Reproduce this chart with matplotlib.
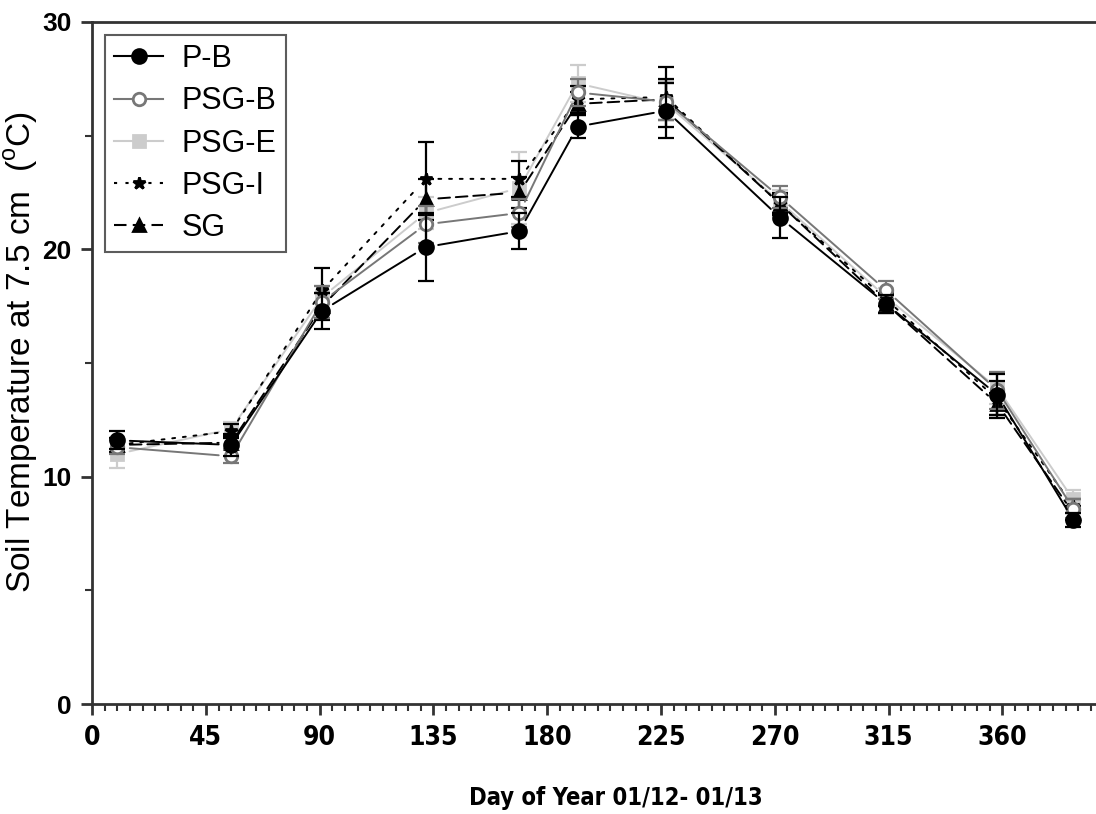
import matplotlib
matplotlib.use("Agg")
import matplotlib.pyplot as plt
from matplotlib.lines import Line2D
from matplotlib.ticker import MultipleLocator

plt.rcParams["font.family"] = ["Liberation Sans", "DejaVu Sans"]

days = [10, 55, 91, 132, 169, 192, 227, 272, 314, 358, 388]

pb = [11.6, 11.4, 17.3, 20.1, 20.8, 25.4, 26.1, 21.4, 17.6, 13.6, 8.1]
psg_b = [11.3, 10.9, 17.7, 21.1, 21.6, 26.9, 26.5, 22.3, 18.2, 13.8, 8.6]
psg_e = [11.0, 12.1, 17.9, 21.6, 22.7, 27.3, 26.4, 22.1, 17.9, 13.9, 9.0]
psg_i = [11.4, 12.0, 18.2, 23.1, 23.1, 26.6, 26.7, 22.0, 17.8, 13.4, 8.7]
sg = [11.4, 11.5, 17.5, 22.2, 22.5, 26.4, 26.6, 22.0, 17.6, 13.2, 8.4]

pb_err = [0.4, 0.5, 0.8, 1.5, 0.8, 0.5, 1.2, 0.9, 0.4, 0.9, 0.3]
psg_b_err = [0.3, 0.3, 0.7, 0.8, 0.6, 0.6, 0.8, 0.5, 0.4, 0.8, 0.4]
psg_e_err = [0.6, 0.3, 0.5, 0.7, 1.6, 0.8, 1.0, 0.5, 0.4, 0.7, 0.4]
psg_i_err = [0.3, 0.3, 1.0, 1.6, 0.8, 0.6, 1.3, 0.5, 0.3, 0.8, 0.3]
sg_err = [0.3, 0.3, 0.6, 0.9, 0.7, 0.5, 0.9, 0.4, 0.4, 0.5, 0.3]

x_ticks = [0, 45, 90, 135, 180, 225, 270, 315, 360]
y_ticks = [0, 10, 20, 30]

series = [
    # label, values, errors, colour, linestyle, marker, marker face, size, zorder
    ("SG", sg, sg_err, "black", (0, (6, 3)), "^", "black", 8, 3),
    ("PSG-I", psg_i, psg_i_err, "black", (0, (1.5, 4)), "*", "black", 9, 4),
    ("PSG-E", psg_e, psg_e_err, "#cccccc", "-", "s", "#cccccc", 9, 2),
    ("PSG-B", psg_b, psg_b_err, "#777777", "-", "o", "white", 9, 5),
    ("P-B", pb, pb_err, "black", "-", "o", "black", 10, 6),
]

fig = plt.figure(figsize=(10.96, 8.14), dpi=100)
ax = fig.add_axes([0.084, 0.135, 0.916, 0.838])

for label, vals, errs, color, ls, marker, face, ms, z in series:
    ax.errorbar(days, vals, yerr=errs, fmt="none", ecolor=color, elinewidth=1.6,
                capsize=6, capthick=1.6, zorder=z)
    ax.plot(days, vals, linestyle="none", marker=marker, markersize=ms,
            markerfacecolor=face, markeredgecolor=color, markeredgewidth=2, zorder=z + 0.5)
    # Prism-style connecting lines that stop short of each marker
    for i in range(len(days) - 1):
        ax.annotate("", xy=(days[i + 1], vals[i + 1]), xytext=(days[i], vals[i]),
                    arrowprops=dict(arrowstyle="-", color=color, lw=1.4, linestyle=ls,
                                    shrinkA=9, shrinkB=9), zorder=z)

ax.set_xlim(0, 397)
ax.set_ylim(0, 30)
ax.set_xticks(x_ticks)
ax.xaxis.set_minor_locator(MultipleLocator(5))
ax.set_yticks(y_ticks)
ax.yaxis.set_minor_locator(MultipleLocator(5))

for side in ("left", "bottom", "top"):
    ax.spines[side].set_linewidth(2)
    ax.spines[side].set_color("#333333")
ax.spines["right"].set_visible(False)

ax.tick_params(which="major", length=8, width=2, color="#333333", direction="out", pad=7)
ax.tick_params(which="minor", length=5, width=1.5, color="#333333", direction="out")
for lab in ax.get_xticklabels():
    lab.set_fontfamily("DejaVu Sans")
    lab.set_fontstretch("condensed")
    lab.set_fontweight("bold")
    lab.set_fontsize(19)
for lab in ax.get_yticklabels():
    lab.set_fontweight("bold")
    lab.set_fontsize(19)

ax.set_xlabel("Day of Year 01/12- 01/13", fontsize=17, fontweight="bold",
              fontfamily="DejaVu Sans", fontstretch="condensed")
ax.xaxis.set_label_coords(0.522, -0.12)
ax.set_ylabel("Soil Temperature at 7.5 cm  ($^{\\mathregular{o}}$C)", fontsize=24)
ax.yaxis.set_label_coords(-0.052, 0.516)

handles = []
for label, vals, errs, color, ls, marker, face, ms, z in reversed(series):
    handles.append(Line2D([], [], color=color, linestyle=ls, lw=1.5, marker=marker,
                          markersize=ms, markerfacecolor=face, markeredgecolor=color,
                          markeredgewidth=2, label=label))
leg = ax.legend(handles=handles, loc="upper left", bbox_to_anchor=(0.013, 0.981),
                fontsize=22, frameon=True, fancybox=False, handlelength=1.6,
                labelspacing=0.4, borderpad=0.3, handletextpad=0.6,
                borderaxespad=0)
leg.get_frame().set_edgecolor("#333333")
leg.get_frame().set_linewidth(1.5)

fig.savefig("out.png", dpi=100)
